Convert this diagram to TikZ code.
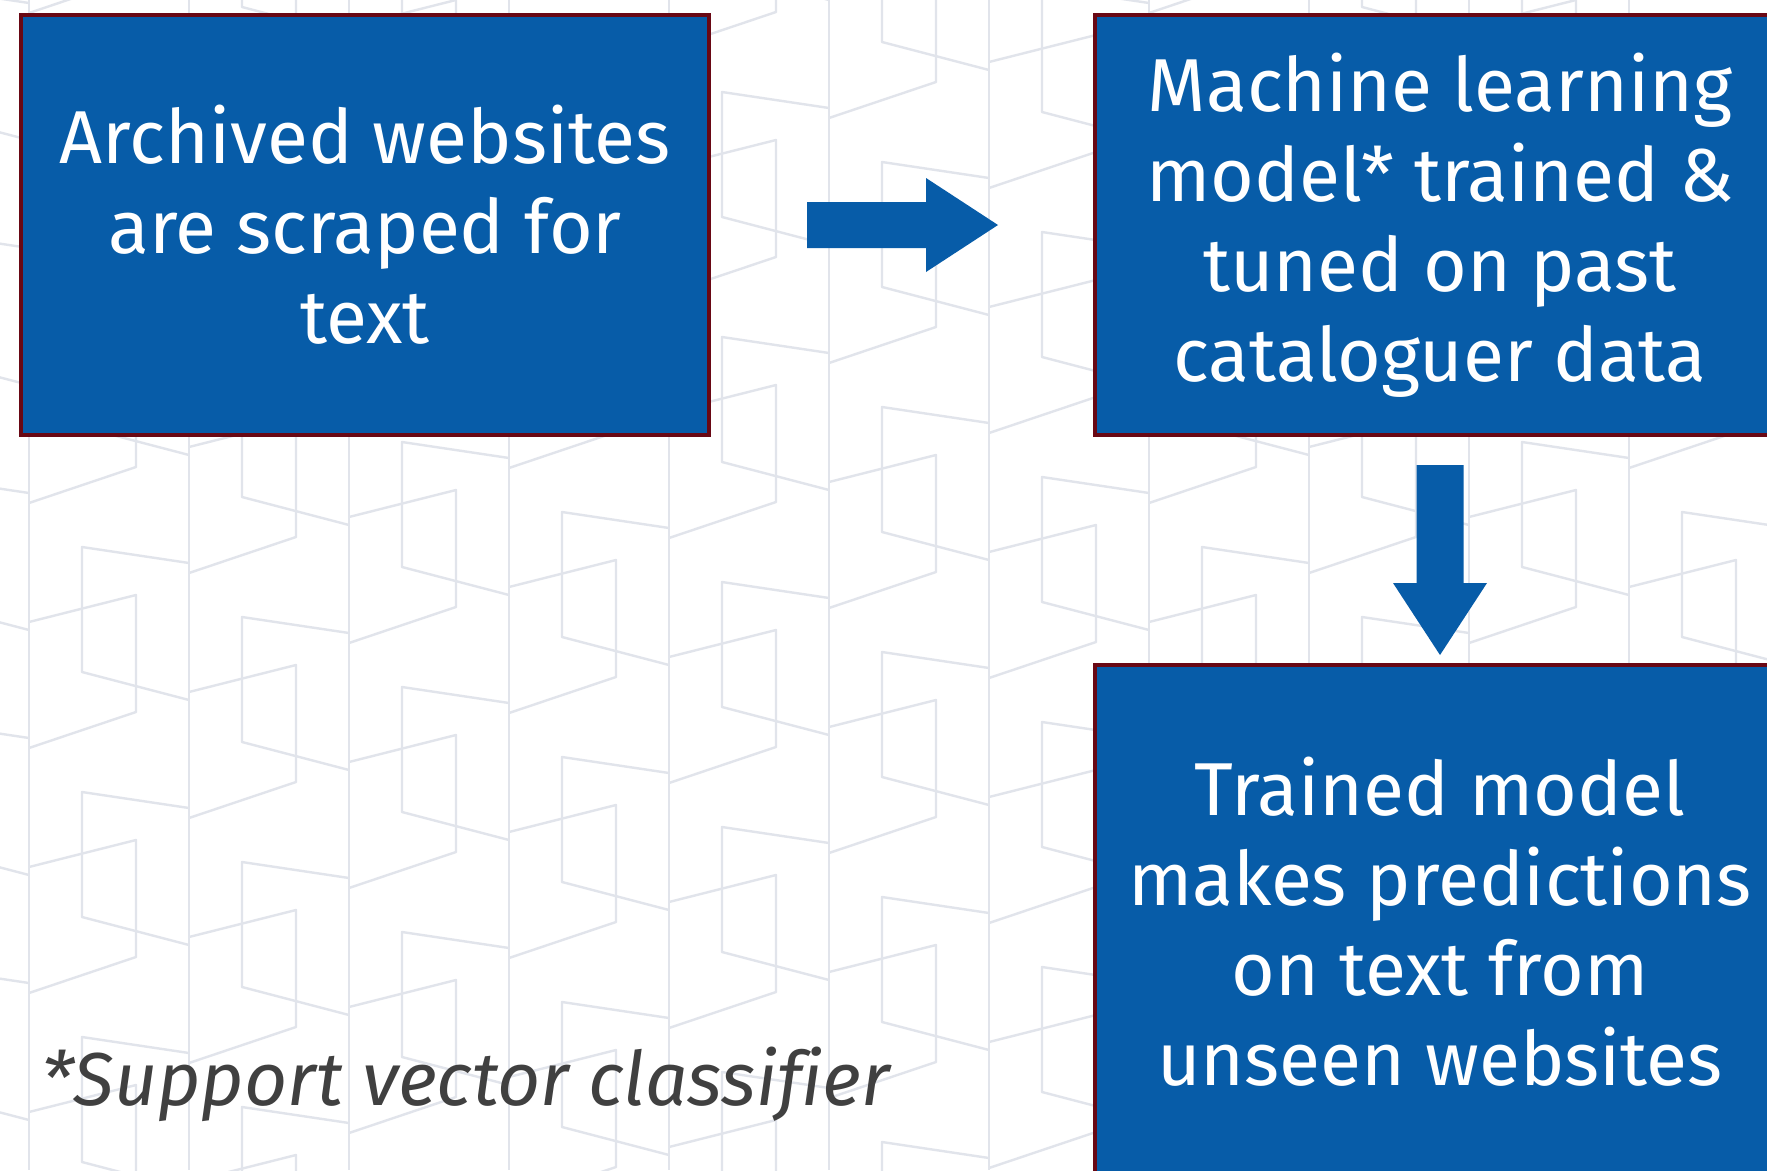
\documentclass[tikz,border=0pt]{standalone}
\usepackage{fontspec}
\setmainfont{Fira Sans}[Ligatures=NoCommon]
\definecolor{boxblue}{RGB}{7,92,168}
\definecolor{boxborder}{RGB}{105,8,20}
\definecolor{patcol}{RGB}{225,228,235}
\definecolor{notegray}{RGB}{64,64,64}
\begin{document}
\begin{tikzpicture}[x=1pt,y=-1pt,
  bgline/.style={draw=patcol, line width=2.4pt, line join=round},
  stepbox/.style={draw=boxborder, line width=3.5pt, fill=boxblue, text=white,
    align=center, font=\fontsize{75}{90}\selectfont, inner sep=0pt},
  blockarrow/.style={fill=boxblue, draw=none}]
\useasboundingbox (0,0) rectangle (1767,1170);
\begin{scope}
\clip (0,0) rectangle (1767,1170);
\fill[white] (0,0) rectangle (1767,1170);
% background pattern
\foreach \k in {-1,...,11}{
  \pgfmathsetmacro{\xo}{29+160*\k}
  \draw[bgline] (\xo,0) -- (\xo,1170);
  \foreach \m in {-6,...,4}{
    \pgfmathsetmacro{\ya}{490+70*(\k-2)+245*\m}
    \pgfmathsetmacro{\yb}{\ya-48}
    \draw[bgline] (\xo,\ya+27) -- (\xo+107,\ya) -- (\xo+107,\ya+117) -- (\xo,\ya+153);
    \draw[bgline] (\xo+160,\yb+16) -- (\xo+53,\yb) -- (\xo+53,\yb+125) -- (\xo+160,\yb+153);
  }
}
% boxes
\node[stepbox, minimum width=688pt, minimum height=420pt] (scrape) at (365,225)
  {Archived websites\\are scraped for\\text};
\node[stepbox, minimum width=690pt, minimum height=420pt] (train) at (1440,225)
  {Machine learning\\model* trained \&\\tuned on past\\cataloguer data};
\node[stepbox, minimum width=690pt, minimum height=514pt] (predict) at (1440,922)
  {Trained model\\makes predictions\\on text from\\unseen websites};
% block arrows
\coordinate (arrAstart) at (807,225);
\coordinate (arrBstart) at (1440,465);
\fill[blockarrow] (arrAstart) ++(0,-23) -- ++(119,0) -- ++(0,-24) -- ++(72,47)
  -- ++(-72,47) -- ++(0,-24) -- ++(-119,0) -- cycle;
\fill[blockarrow] (arrBstart) ++(-23.5,0) -- ++(47,0) -- ++(0,118) -- ++(23.5,0)
  -- ++(-47,72) -- ++(-47,-72) -- ++(23.5,0) -- cycle;
% footnote
\node[anchor=base west, text=notegray, inner sep=0pt,
  font=\fontsize{75}{82}\selectfont\itshape] (note) at (41,1105)
  {*Support vector classifier};
\end{scope}
\end{tikzpicture}
\end{document}
